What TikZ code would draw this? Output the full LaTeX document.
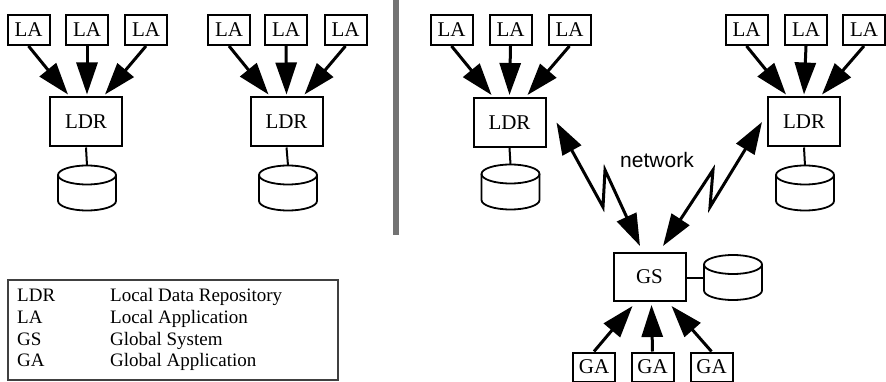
\documentclass[tikz,border=0pt]{standalone}
\usepackage{fontspec}
\setmainfont{Liberation Serif}
\newfontfamily\netfont{Liberation Sans}
\usetikzlibrary{arrows.meta,calc}
\begin{document}
\begin{tikzpicture}[x=1pt,y=-1pt,
  box/.style={draw,line width=2pt,inner sep=0pt,font=\fontsize{21}{24}\selectfont},
  la/.style={box,minimum width=42pt,minimum height=30pt},
  ldr/.style={box,minimum width=72pt,minimum height=49pt},
  arr/.style={line width=3pt,-{Triangle[length=32pt,width=21pt]}},
  darr/.style={line width=3pt,{Triangle[length=32pt,width=21pt]}-{Triangle[length=32pt,width=21pt]}},
  link/.style={line width=2pt},
  legtext/.style={anchor=base west,inner sep=0pt,font=\fontsize{19}{22}\selectfont},
  pics/db/.style={code={
    \draw[line width=1.8pt] (0,0) ellipse (29 and 9.5);
    \draw[line width=1.8pt] (-29,0) -- (-29,26) arc (180:0:29 and 9.5) -- (29,0);}}
]
\useasboundingbox (0,0) rectangle (886,382);

% separator bar
\fill[black!55] (393,0) rectangle (399,235);

% ---- group 1
\node[la] (la1) at (28.5,30) {LA};
\node[la] (la2) at (87,30) {LA};
\node[la] (la3) at (146,30) {LA};
\node[ldr] (ldr1) at (86,122) {LDR};
\pic at (87,175) {db};
\coordinate (db1) at (87,165.5);
\draw[arr] (la1.south) -- ($(ldr1.north)+(-18,-2)$);
\draw[arr] (la2.south) -- ($(ldr1.north)+(1,-2)$);
\draw[arr] (la3.south) -- ($(ldr1.north)+(19,-2)$);
\draw[link] (ldr1.south) -- (db1);

% ---- group 2
\node[la] (la4) at (229,30) {LA};
\node[la] (la5) at (286,30) {LA};
\node[la] (la6) at (345.5,30) {LA};
\node[ldr] (ldr2) at (286.5,122) {LDR};
\pic at (288,175) {db};
\coordinate (db2) at (288,165.5);
\draw[arr] (la4.south) -- ($(ldr2.north)+(-18,-2)$);
\draw[arr] (la5.south) -- ($(ldr2.north)+(0,-2)$);
\draw[arr] (la6.south) -- ($(ldr2.north)+(18,-2)$);
\draw[link] (ldr2.south) -- (db2);

% ---- group 3
\node[la] (la7) at (451.5,30) {LA};
\node[la] (la8) at (510.5,30) {LA};
\node[la] (la9) at (569.5,30) {LA};
\node[ldr] (ldr3) at (509.5,122.5) {LDR};
\pic at (510.5,174) {db};
\coordinate (db3) at (510.5,164.5);
\draw[arr] (la7.south) -- ($(ldr3.north)+(-18,-2)$);
\draw[arr] (la8.south) -- ($(ldr3.north)+(0,-2)$);
\draw[arr] (la9.south) -- ($(ldr3.north)+(18,-2)$);
\draw[link] (ldr3.south) -- (db3);

% ---- group 4
\node[la] (la10) at (746.5,30) {LA};
\node[la] (la11) at (806,30) {LA};
\node[la] (la12) at (864,30) {LA};
\node[ldr] (ldr4) at (804,122) {LDR};
\pic at (805,175) {db};
\coordinate (db4) at (805,165.5);
\draw[arr] (la10.south) -- ($(ldr4.north)+(-18,-2)$);
\draw[arr] (la11.south) -- ($(ldr4.north)+(0,-2)$);
\draw[arr] (la12.south) -- ($(ldr4.north)+(18,-2)$);
\draw[link] (ldr4.south) -- (db4);

% ---- global system
\node[box,minimum width=72pt,minimum height=48pt] (gs) at (649.5,277) {GS};
\pic at (733,264.5) {db};
\coordinate (gsdb) at (704,278);
\draw[link] (gs.east |- gsdb) -- (gsdb);
\node[la,minimum height=29pt] (ga1) at (594,367) {GA};
\node[la,minimum height=29pt] (ga2) at (652.5,367) {GA};
\node[la,minimum height=29pt] (ga3) at (711.5,367) {GA};
\draw[arr] (ga1.north) -- ($(gs.south)+(-17,4)$);
\draw[arr] (ga2.north) -- ($(gs.south)+(2,3)$);
\draw[arr] (ga3.north) -- ($(gs.south)+(22,4)$);

% ---- network links
\coordinate (p1) at (603,207);
\coordinate (p2) at (605,170);
\coordinate (q1) at (710,207);
\coordinate (q2) at (713,170);
\draw[darr] ($(ldr3.east)+(10,0)$) -- (p1) -- (p2) -- ($(gs.north)+(-9.5,-6)$);
\draw[darr] ($(ldr4.west)+(-5,0)$) -- (q1) -- (q2) -- ($(gs.north)+(13.5,-6)$);
\node[font=\netfont\fontsize{21}{24}\selectfont,inner sep=0pt] (net) at (657,160) {network};

% ---- legend
\draw[line width=1.2pt,black!75] (8,280) rectangle (338,380);
\node[legtext] (k1) at (17,301.5) {LDR};
\node[legtext] (k2) at (17,323.5) {LA};
\node[legtext] (k3) at (17,345.5) {GS};
\node[legtext] (k4) at (17,366.5) {GA};
\node[legtext] (v1) at (110,301.5) {Local Data Repository};
\node[legtext] (v2) at (110,323.5) {Local Application};
\node[legtext] (v3) at (110,345.5) {Global System};
\node[legtext] (v4) at (110,366.5) {Global Application};
\end{tikzpicture}
\end{document}
